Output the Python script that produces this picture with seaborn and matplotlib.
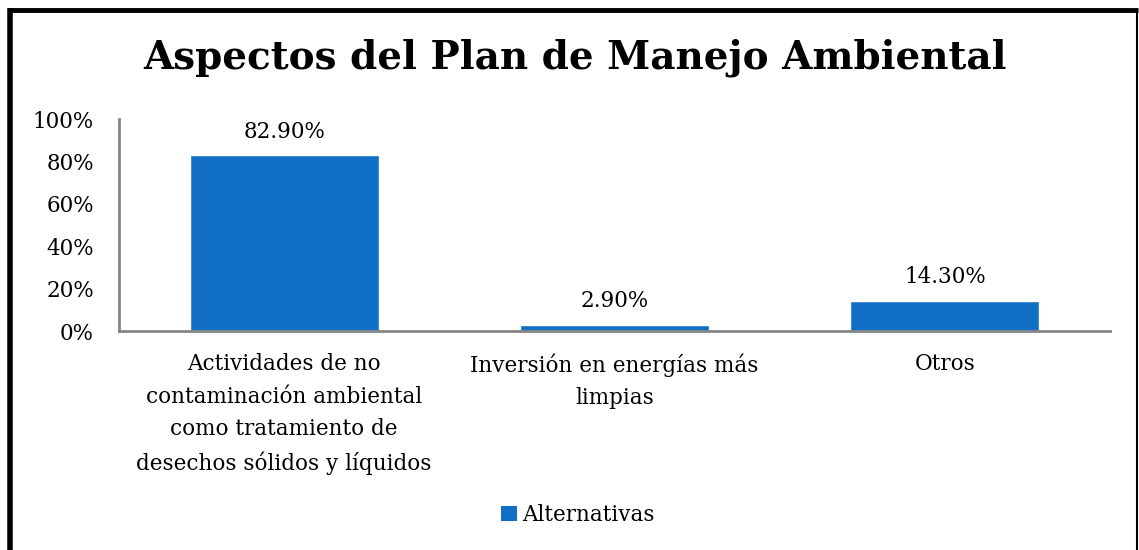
# ---- import packages ---- #
import matplotlib
matplotlib.use('Agg')
import matplotlib.pyplot as plt
import pandas as pd
import seaborn as sns
from matplotlib.lines import Line2D
from matplotlib.patches import Patch


# ---- data ---- #
categorias = [
    'Actividades de no\ncontaminación ambiental\ncomo tratamiento de\ndesechos sólidos y líquidos',
    'Inversión en energías más\nlimpias',
    'Otros',
]
valores = [0.829, 0.029, 0.143]
etiquetas = ['82.90%', '2.90%', '14.30%']
ticks_y = [0, 0.2, 0.4, 0.6, 0.8, 1.0]
ticks_y_txt = ['0%', '20%', '40%', '60%', '80%', '100%']
serie = 'Alternativas'
titulo = 'Aspectos del Plan de Manejo Ambiental'

df = pd.DataFrame({'categoria': categorias, 'valor': valores})


# ---- style ---- #
sns.set_style('white')
plt.rcParams['font.family'] = ['DejaVu Serif']
plt.rcParams['text.color'] = 'black'
plt.rcParams['xtick.color'] = 'black'
plt.rcParams['ytick.color'] = 'black'
azul = '#1170c6'
gris = '#868686'


# ---- figure ---- #
fig = plt.figure(figsize=(11.39, 5.5), dpi=100)
ax = fig.add_axes([119 / 1139, 1 - 331 / 550, (1110 - 119) / 1139, (331 - 119) / 550])

sns.barplot(data=df, x='categoria', y='valor', color=azul, width=0.573,
            saturation=1, ax=ax)

ax.set_xlim(-0.5, 2.5)
ax.set_ylim(0, 1.0)
ax.set_yticks(ticks_y)
ax.set_yticklabels(ticks_y_txt, fontsize=15.5)
ax.set_xticks(range(len(categorias)))
ax.set_xticklabels(categorias, fontsize=15.5, linespacing=1.62, va='top')
ax.tick_params(axis='both', length=0)
ax.tick_params(axis='x', pad=16)
ax.tick_params(axis='y', pad=18)
ax.set_xlabel('')
ax.set_ylabel('')

for lado in ['top', 'right']:
    ax.spines[lado].set_visible(False)
for lado in ['left', 'bottom']:
    ax.spines[lado].set_color(gris)
    ax.spines[lado].set_linewidth(2)

# bar value labels
for i, (v, t) in enumerate(zip(valores, etiquetas)):
    ax.annotate(t, (i, v), xytext=(0, 9), textcoords='offset points',
                ha='center', va='bottom', fontsize=15.5)

# title
fig.text(575 / 1139, 1 - 58 / 550, titulo, ha='center', va='center',
         fontsize=28, fontweight='bold')

# legend
fig.legend(handles=[Patch(facecolor=azul, edgecolor='none', label=serie)],
           loc='center', bbox_to_anchor=(578 / 1139, 1 - 515 / 550),
           frameon=False, fontsize=15.5, handlelength=0.75, handleheight=0.75,
           handletextpad=0.25, borderaxespad=0)

# outer border
fig.add_artist(Line2D([9.5 / 1139, 9.5 / 1139], [0, 1 - 8 / 550],
                      transform=fig.transFigure, color='black', lw=4,
                      solid_capstyle='butt'))
fig.add_artist(Line2D([7.5 / 1139, 1137.5 / 1139], [1 - 10 / 550, 1 - 10 / 550],
                      transform=fig.transFigure, color='black', lw=3.5,
                      solid_capstyle='butt'))
fig.add_artist(Line2D([1137 / 1139, 1137 / 1139], [0, 1 - 10 / 550],
                      transform=fig.transFigure, color='black', lw=1.5,
                      solid_capstyle='butt'))

fig.savefig('out.png', dpi=100)
